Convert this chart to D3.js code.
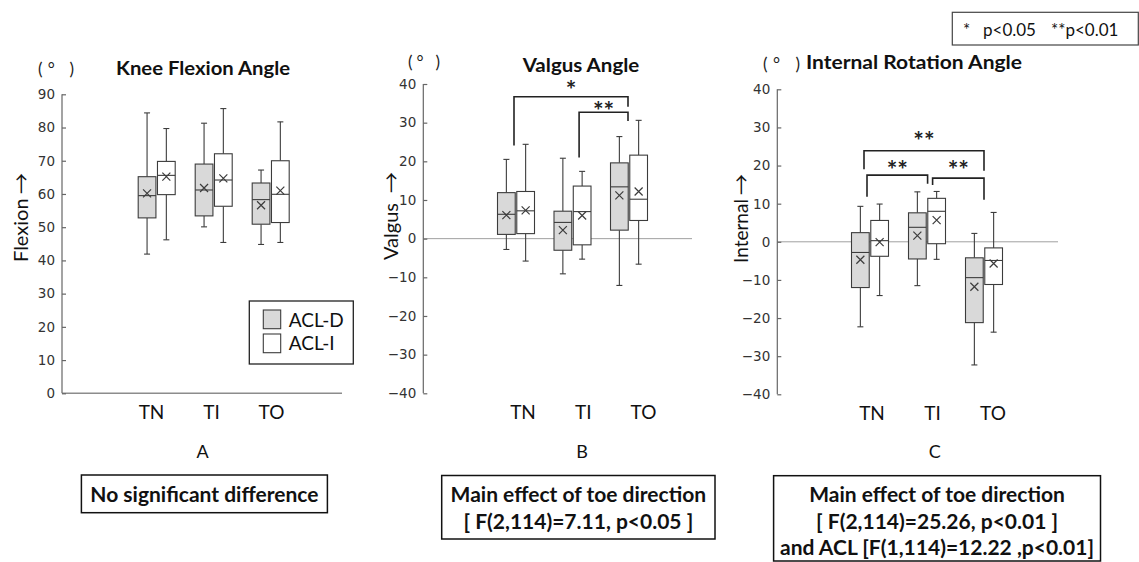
<!DOCTYPE html>
<html><head><meta charset="utf-8">
<script src="https://cdn.jsdelivr.net/npm/d3@7/dist/d3.min.js"></script>
<style>
html,body{margin:0;padding:0;background:#fff;}
svg{display:block;}
text{font-family:Lato,"Open Sans",sans-serif;}
</style></head>
<body>
<svg id="chart" width="1139" height="562"></svg>
<script>
// ---------------- DATA ----------------
const categories = ["TN", "TI", "TO"];
const groups = ["ACL-D", "ACL-I"];
// per category: [whisker low, Q1, median, Q3, whisker high, mean]
const flexionD = [[41.9, 52.8, 59.5, 65.2, 84.4, 60.2], [50.1, 53.4, 61.2, 69.0, 81.3, 61.8], [44.8, 50.9, 58.3, 63.3, 67.2, 56.6]];
const flexionI = [[46.2, 59.8, 65.6, 69.8, 79.7, 65.2], [45.4, 56.3, 64.2, 72.1, 85.7, 64.7], [45.4, 51.4, 59.9, 70.0, 81.7, 61.0]];
const valgusD = [[-2.8, 1.1, 6.3, 11.9, 20.5, 6.1], [-9.1, -3.0, 4.2, 7.1, 20.8, 2.2], [-12.1, 2.2, 13.4, 19.6, 26.4, 11.2]];
const valgusI = [[-5.8, 1.3, 7.2, 12.2, 24.4, 7.3], [-5.3, -1.6, 7.0, 13.6, 17.4, 6.0], [-6.6, 4.7, 10.2, 21.6, 30.6, 12.2]];
const internalD = [[-22.3, -12.0, -2.8, 2.4, 9.3, -4.7], [-11.5, -4.5, 3.8, 7.6, 13.1, 1.6], [-32.3, -21.2, -9.4, -4.2, 2.2, -11.8]];
const internalI = [[-14.1, -3.8, 0.3, 5.6, 9.9, -0.1], [-4.6, -0.5, 8.0, 11.4, 13.2, 5.7], [-23.7, -11.2, -4.9, -1.6, 7.7, -5.7]];
const flexionTicks = [0, 10, 20, 30, 40, 50, 60, 70, 80, 90];
const angleTicks = [-40, -30, -20, -10, 0, 10, 20, 30, 40];
// significance brackets: from/to category, top value, leg end values, label value
const valgusBrackets = [
  {from: "TN", to: "TO", top: 36.7, leftEnd: 24.1, rightEnd: 34.1, labelAt: 39.7, label: "*"},
  {from: "TI", to: "TO", top: 32.7, leftEnd: 21.0, rightEnd: 30.4, labelAt: 34.1, label: "**"}
];
const internalBrackets = [
  {from: "TN", to: "TO", top: 23.9, leftEnd: 19.0, rightEnd: 18.65, labelAt: 27.6, label: "**"},
  {from: "TN", to: "TI", top: 17.5, leftEnd: 11.8, rightEnd: 15.2, labelAt: 20.0, label: "**"},
  {from: "TI", to: "TO", top: 16.7, leftEnd: 14.9, rightEnd: 11.0, labelAt: 20.0, label: "**"}
];
const titles = ["Knee Flexion Angle", "Valgus Angle", "Internal Rotation Angle"];
const yLabels = ["Flexion", "Valgus", "Internal"];
const panelLetters = ["A", "B", "C"];
const resultTexts = [
  ["No significant difference"],
  ["Main effect of toe direction", "[ F(2,114)=7.11, p<0.05 ]"],
  ["Main effect of toe direction", "[ F(2,114)=25.26, p<0.01 ]", "and ACL [F(1,114)=12.22 ,p<0.01]"]
];

// ---------------- LAYOUT ----------------
const svg = d3.select("#chart");
const fills = {"ACL-D": "#d9d9d9", "ACL-I": "#ffffff"};
const ink = "#3c3c3c";

const panels = [
  {dD: flexionD, dI: flexionI, domain: [0, 90], yr: [393.3, 94.3], ax: 62, cr: [156.7, 270.7], lr: [151, 271],
   ticks: flexionTicks, brackets: [], zeroEnd: 342, baseAxis: true,
   ylab: [20, 262, 173, 20], deg: [38, 74, 69], title: [116, 290, 75], letter: 202.5,
   bracketDx: [], box: [81.4, 475, 327.4, 512.7]},
  {dD: valgusD, dI: valgusI, domain: [-40, 40], yr: [393.3, 84], ax: 423.3, cr: [516, 629], lr: [522.5, 643],
   ticks: angleTicks, brackets: valgusBrackets, zeroEnd: 692, baseAxis: false,
   ylab: [390, 260, 172, 20], deg: [408, 440, 62], title: [522.7, 639.3, 71.7], letter: 582,
   bracketDx: [[-2, -1], [6.6, -1]], box: [441.7, 475.5, 715, 539]},
  {dD: internalD, dI: internalI, domain: [-40, 40], yr: [394.3, 89.3], ax: 777.3, cr: [870, 984], lr: [871.5, 992.5],
   ticks: angleTicks, brackets: internalBrackets, zeroEnd: 1058, baseAxis: false,
   ylab: [740, 263, 174, 19], deg: [763, 800, 64], title: [806, 1022, 69], letter: 934.7,
   bracketDx: [[-6, 0], [-3, 0.6], [5.6, 0]], box: [773.6, 475.7, 1100.5, 561]}
];

panels.forEach((p, pi) => {
  const g = svg.append("g");
  const y = d3.scaleLinear().domain(p.domain).range(p.yr);
  const x = d3.scalePoint().domain(categories).range(p.cr);
  const inner = d3.scaleBand().domain(groups).range([-18.5, 18.5]).paddingInner(0.08);
  const xl = d3.scalePoint().domain(categories).range(p.lr);

  // zero line / baseline
  g.append("line").attr("x1", p.ax).attr("x2", p.zeroEnd)
    .attr("y1", y(0)).attr("y2", y(0))
    .attr("stroke", p.baseAxis ? "#8c8c8c" : "#a0a0a0")
    .attr("stroke-width", p.baseAxis ? 1.6 : 1);

  // y axis
  const yAxis = d3.axisLeft(y).tickValues(p.ticks).tickSize(-4).tickPadding(7).tickFormat(d3.format("d"));
  const ga = g.append("g").attr("transform", `translate(${p.ax},0)`).call(yAxis);
  ga.select(".domain").attr("stroke", "#666").attr("stroke-width", 1.2).attr("d", `M-0,${p.yr[1]}V${p.yr[0]}`);
  ga.selectAll(".tick line").attr("stroke", "#666").attr("stroke-width", 1.2);
  ga.selectAll(".tick text").attr("fill", "#333").style("font-family", "'DejaVu Sans',sans-serif").style("font-size", "13.5px");

  // x axis labels
  const xAxis = d3.axisBottom(xl).tickSize(0).tickPadding(0);
  const gx = g.append("g").attr("transform", `translate(0,${p.yr[0] + 12})`).call(xAxis);
  gx.select(".domain").remove();
  gx.selectAll(".tick text").attr("dy", null).attr("y", 14).attr("fill", "#111")
    .style("font-family", "Lato,sans-serif").style("font-size", "19px");

  // boxes
  [["ACL-D", p.dD], ["ACL-I", p.dI]].forEach(([grp, data]) => {
    categories.forEach((c, ci) => {
      const [lo, q1, med, q3, hi, mean] = data[ci];
      const x0 = x(c) + inner(grp), bw = inner.bandwidth(), xc = x0 + bw / 2;
      const b = g.append("g").attr("stroke", ink).attr("stroke-width", 1.1).attr("fill", "none");
      b.append("line").attr("x1", xc).attr("x2", xc).attr("y1", y(hi)).attr("y2", y(q3));
      b.append("line").attr("x1", xc).attr("x2", xc).attr("y1", y(q1)).attr("y2", y(lo));
      b.append("line").attr("x1", xc - 3).attr("x2", xc + 3).attr("y1", y(hi)).attr("y2", y(hi));
      b.append("line").attr("x1", xc - 3).attr("x2", xc + 3).attr("y1", y(lo)).attr("y2", y(lo));
      b.append("rect").attr("x", x0).attr("width", bw).attr("y", y(q3)).attr("height", y(q1) - y(q3))
        .attr("fill", fills[grp]);
      b.append("line").attr("x1", x0).attr("x2", x0 + bw).attr("y1", y(med)).attr("y2", y(med));
      const my = y(mean), s = 4;
      b.append("path").attr("d", `M${xc - s},${my - s}L${xc + s},${my + s}M${xc - s},${my + s}L${xc + s},${my - s}`)
        .attr("stroke-width", 1.2);
    });
  });

  // brackets
  p.brackets.forEach((br, bi) => {
    const [dx1, dx2] = p.bracketDx[bi];
    const x1 = x(br.from) + dx1, x2 = x(br.to) + dx2;
    g.append("path").attr("d", `M${x1},${y(br.leftEnd)}V${y(br.top)}H${x2}V${y(br.rightEnd)}`)
      .attr("fill", "none").attr("stroke", "#222").attr("stroke-width", 1.6);
    g.append("text").attr("x", (x1 + x2) / 2).attr("y", y(br.labelAt) + 13.5)
      .attr("text-anchor", "middle").style("font-size", "25px").style("font-weight", "700")
      .attr("fill", "#222").text(br.label);
  });

  // y label: word + arrow, rotated (start at bottom)
  const [lx, lyBottom, lyTop, lfs] = p.ylab;
  const yl = g.append("g").attr("transform", `translate(${lx},${lyBottom}) rotate(-90)`);
  yl.append("text").attr("x", 0).attr("y", 0).attr("dominant-baseline", "central")
    .style("font-size", lfs + "px").attr("fill", "#111").text(yLabels[pi]);
  yl.append("text").attr("x", lyBottom - lyTop).attr("y", 0).attr("text-anchor", "end")
    .attr("dominant-baseline", "central").style("font-family", "'Noto Sans CJK JP',sans-serif")
    .style("font-size", "21px").attr("fill", "#111").text("\u2192");

  // degree unit & title
  g.append("text").attr("x", p.deg[0]).attr("y", p.deg[2] + 6).attr("textLength", p.deg[1] - p.deg[0])
    .attr("lengthAdjust", "spacing").style("font-size", "17px").attr("fill", "#222").text("(\u00b0 )");
  g.append("text").attr("x", p.title[0]).attr("y", p.title[2]).attr("textLength", p.title[1] - p.title[0])
    .attr("lengthAdjust", "spacingAndGlyphs").style("font-size", "18.5px").style("font-weight", "700")
    .attr("fill", "#111").text(titles[pi]);

  // panel letter
  g.append("text").attr("x", p.letter).attr("y", 458).attr("text-anchor", "middle")
    .style("font-size", "18px").attr("fill", "#111").text(panelLetters[pi]);

  // result box
  const [bx1, by1, bx2, by2] = p.box;
  g.append("rect").attr("x", bx1).attr("y", by1).attr("width", bx2 - bx1).attr("height", by2 - by1)
    .attr("fill", "none").attr("stroke", "#111").attr("stroke-width", 1.5);
  resultTexts[pi].forEach((t, ti) => {
    g.append("text").attr("x", (bx1 + bx2) / 2).attr("y", 495 + ti * 26.5 + 7).attr("text-anchor", "middle")
      .style("font-size", "21px").style("font-weight", "700").attr("fill", "#111").text(t);
  });
});

// legend in panel A
const lg = svg.append("g");
lg.append("rect").attr("x", 249.3).attr("y", 301).attr("width", 104).attr("height", 63)
  .attr("fill", "#fff").attr("stroke", "#222").attr("stroke-width", 1.3);
groups.forEach((grp, i) => {
  lg.append("rect").attr("x", 263.3).attr("y", 310 + i * 24).attr("width", 17.4).attr("height", 18.7)
    .attr("fill", fills[grp]).attr("stroke", ink).attr("stroke-width", 1.1);
  lg.append("text").attr("x", 288.7).attr("y", 320 + i * 23 + 7).style("font-size", "19px")
    .attr("fill", "#111").text(grp);
});

// p-value legend
const pl = svg.append("g");
pl.append("rect").attr("x", 952.3).attr("y", 12.3).attr("width", 186).attr("height", 32.7)
  .attr("fill", "#fff").attr("stroke", "#444").attr("stroke-width", 1.2);
[["*", 963, 17], ["p<0.05", 983, 17], ["**p<0.01", 1051, 17]].forEach(([t, xx, fs]) => {
  pl.append("text").attr("x", xx).attr("y", 35.5).style("font-size", fs + "px").attr("fill", "#111").text(t);
});
</script>
</body></html>
